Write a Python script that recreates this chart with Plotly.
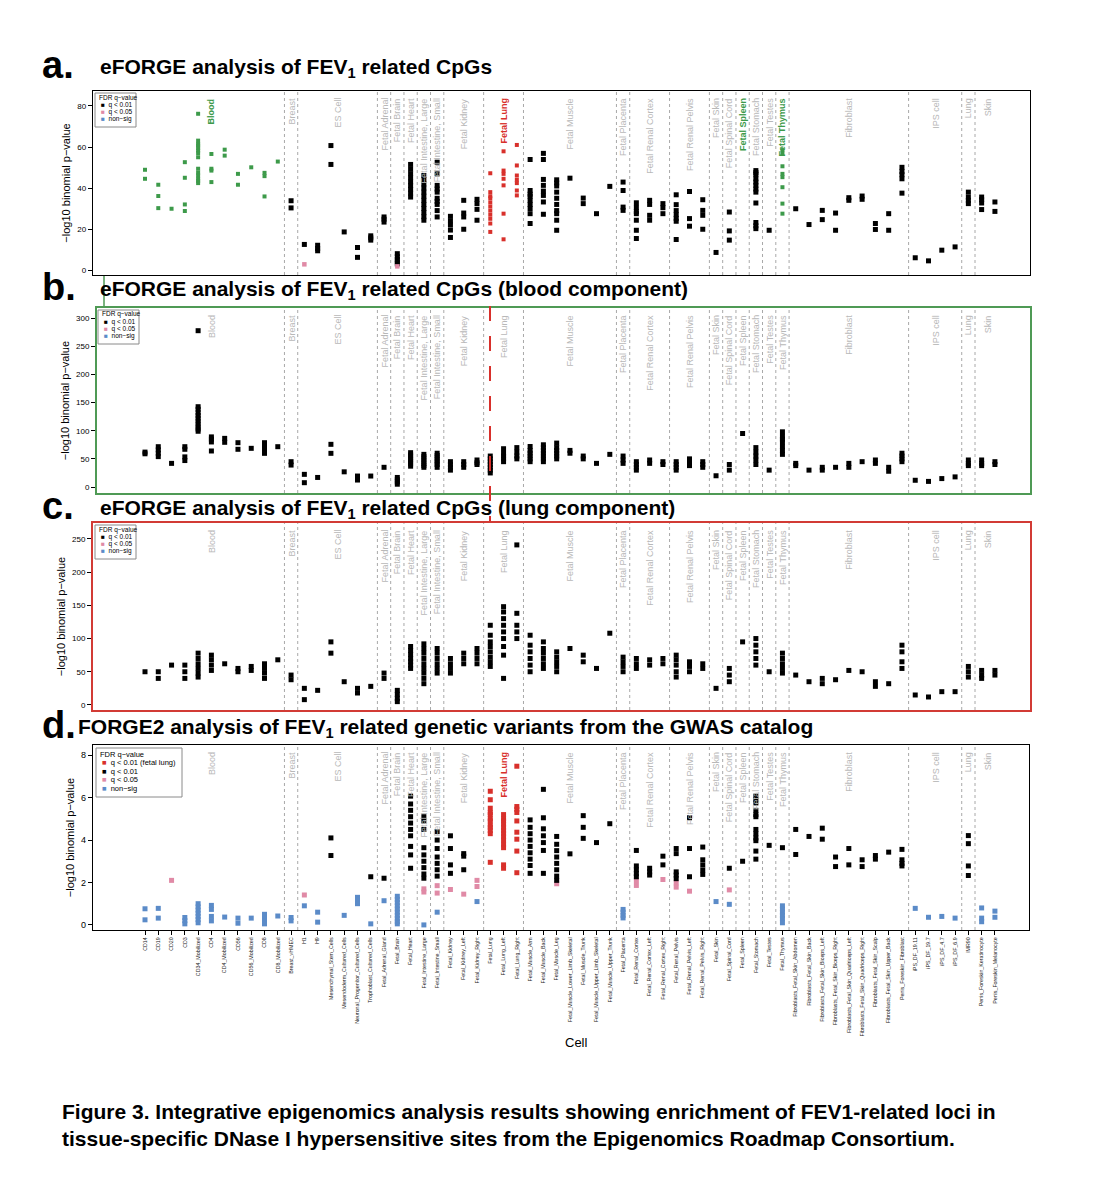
import plotly.graph_objects as go

W, H = 1096, 1200

cells = ["CD14", "CD19", "CD20", "CD3", "CD34_Mobilized", "CD4", "CD4_Mobilized", "CD56",
         "CD56_Mobilized", "CD8", "CD8_Mobilized", "Breast_vHMEC", "H1", "H9",
         "Mesenchymal_Stem_Cells", "Mesendoderm_Cultured_Cells", "Neuronal_Progenitor_Cultured_Cells",
         "Trophoblast_Cultured_Cells", "Fetal_Adrenal_Gland", "Fetal_Brain", "Fetal_Heart",
         "Fetal_Intestine_Large", "Fetal_Intestine_Small", "Fetal_Kidney", "Fetal_Kidney_Left",
         "Fetal_Kidney_Right", "Fetal_Lung", "Fetal_Lung_Left", "Fetal_Lung_Right", "Fetal_Muscle_Arm",
         "Fetal_Muscle_Back", "Fetal_Muscle_Leg", "Fetal_Muscle_Lower_Limb_Skeletal", "Fetal_Muscle_Trunk",
         "Fetal_Muscle_Upper_Limb_Skeletal", "Fetal_Muscle_Upper_Trunk", "Fetal_Placenta",
         "Fetal_Renal_Cortex", "Fetal_Renal_Cortex_Left", "Fetal_Renal_Cortex_Right", "Fetal_Renal_Pelvis",
         "Fetal_Renal_Pelvis_Left", "Fetal_Renal_Pelvis_Right", "Fetal_Skin", "Fetal_Spinal_Cord",
         "Fetal_Spleen", "Fetal_Stomach", "Fetal_Testes", "Fetal_Thymus",
         "Fibroblasts_Fetal_Skin_Abdomen", "Fibroblasts_Fetal_Skin_Back", "Fibroblasts_Fetal_Skin_Biceps_Left",
         "Fibroblasts_Fetal_Skin_Biceps_Right", "Fibroblasts_Fetal_Skin_Quadriceps_Left",
         "Fibroblasts_Fetal_Skin_Quadriceps_Right", "Fibroblasts_Fetal_Skin_Scalp",
         "Fibroblasts_Fetal_Skin_Upper_Back", "Penis_Foreskin_Fibroblast", "iPS_DF_19.11", "iPS_DF_19.7",
         "iPS_DF_4.7", "iPS_DF_6.9", "IMR90", "Penis_Foreskin_Keratinocyte", "Penis_Foreskin_Melanocyte"]

# tissue groups: label, first cell, last cell
groups = [("Blood", "CD14", "CD8_Mobilized"), ("Breast", "Breast_vHMEC", "Breast_vHMEC"),
          ("ES Cell", "H1", "Trophoblast_Cultured_Cells"), ("Fetal Adrenal", "Fetal_Adrenal_Gland", "Fetal_Adrenal_Gland"),
          ("Fetal Brain", "Fetal_Brain", "Fetal_Brain"), ("Fetal Heart", "Fetal_Heart", "Fetal_Heart"),
          ("Fetal Intestine, Large", "Fetal_Intestine_Large", "Fetal_Intestine_Large"),
          ("Fetal Intestine, Small", "Fetal_Intestine_Small", "Fetal_Intestine_Small"),
          ("Fetal Kidney", "Fetal_Kidney", "Fetal_Kidney_Right"), ("Fetal Lung", "Fetal_Lung", "Fetal_Lung_Right"),
          ("Fetal Muscle", "Fetal_Muscle_Arm", "Fetal_Muscle_Upper_Trunk"),
          ("Fetal Placenta", "Fetal_Placenta", "Fetal_Placenta"),
          ("Fetal Renal Cortex", "Fetal_Renal_Cortex", "Fetal_Renal_Cortex_Right"),
          ("Fetal Renal Pelvis", "Fetal_Renal_Pelvis", "Fetal_Renal_Pelvis_Right"),
          ("Fetal Skin", "Fetal_Skin", "Fetal_Skin"), ("Fetal Spinal Cord", "Fetal_Spinal_Cord", "Fetal_Spinal_Cord"),
          ("Fetal Spleen", "Fetal_Spleen", "Fetal_Spleen"), ("Fetal Stomach", "Fetal_Stomach", "Fetal_Stomach"),
          ("Fetal Testes", "Fetal_Testes", "Fetal_Testes"), ("Fetal Thymus", "Fetal_Thymus", "Fetal_Thymus"),
          ("Fibroblast", "Fibroblasts_Fetal_Skin_Abdomen", "Penis_Foreskin_Fibroblast"),
          ("IPS cell", "iPS_DF_19.11", "iPS_DF_6.9"), ("Lung", "IMR90", "IMR90"),
          ("Skin", "Penis_Foreskin_Keratinocyte", "Penis_Foreskin_Melanocyte")]

# ---------------- panel a: eFORGE, FEV1 CpGs ----------------
a_q01 = {
    "CD14": [48.9, 44.5], "CD19": [41.6, 36.1, 30.2], "CD20": [29.9], "CD3": [52.6, 45.0, 32.0, 28.8],
    "CD34_Mobilized": [76.2, 63.1, 61.5, 60.7, 59.5, 58.3, 57.0, 55.0, 49.4, 47.5, 46.1, 44.5, 43.5, 42.4],
    "CD4": [56.6, 49.4, 48.5, 42.9], "CD4_Mobilized": [58.7, 55.8], "CD56": [46.9, 41.6],
    "CD56_Mobilized": [50.1], "CD8": [47.4, 45.8, 35.9], "CD8_Mobilized": [52.9],
    "Breast_vHMEC": [33.8, 30.3], "H1": [12.5], "H9": [12.1, 10.5, 9.4],
    "Mesenchymal_Stem_Cells": [60.7, 51.5], "Mesendoderm_Cultured_Cells": [18.6],
    "Neuronal_Progenitor_Cultured_Cells": [11.0, 6.2], "Trophoblast_Cultured_Cells": [16.7, 15.7, 14.6],
    "Fetal_Adrenal_Gland": [25.9, 24.8, 23.4], "Fetal_Brain": [8.0, 6.5, 5.2, 4.0, 3.0],
    "Fetal_Heart": [51.5, 49.2, 47.0, 45.0, 43.0, 41.2, 39.4, 37.5, 35.6],
    "Fetal_Intestine_Large": [46.1, 44.0, 42.0, 40.0, 38.0, 36.0, 34.0, 32.0, 30.0, 28.0, 26.0, 24.3],
    "Fetal_Intestine_Small": [52.6, 46.9, 41.3, 39.5, 38.0, 35.0, 33.5, 32.0, 29.0, 25.9],
    "Fetal_Kidney": [26.2, 24.0, 22.0, 19.5, 15.9], "Fetal_Kidney_Left": [34.0, 27.8, 25.9, 19.9],
    "Fetal_Kidney_Right": [34.5, 32.4, 29.6, 24.3],
    "Fetal_Lung": [47.2, 38.0, 36.0, 35.0, 33.0, 31.0, 29.0, 27.0, 25.0, 22.7, 18.6],
    "Fetal_Lung_Left": [57.9, 48.5, 46.9, 44.5, 41.3, 27.5, 15.0],
    "Fetal_Lung_Right": [61.0, 51.0, 46.1, 44.0, 42.4, 38.8, 36.4],
    "Fetal_Muscle_Arm": [53.9, 38.8, 37.0, 36.0, 34.0, 32.0, 30.0, 27.5, 22.7],
    "Fetal_Muscle_Back": [56.9, 53.9, 44.2, 41.3, 38.5, 36.4, 33.2, 27.2],
    "Fetal_Muscle_Leg": [44.0, 42.5, 41.0, 38.0, 35.0, 32.0, 29.0, 27.5, 24.3, 19.4],
    "Fetal_Muscle_Lower_Limb_Skeletal": [44.8], "Fetal_Muscle_Trunk": [35.1, 32.4],
    "Fetal_Muscle_Upper_Limb_Skeletal": [27.5], "Fetal_Muscle_Upper_Trunk": [40.8],
    "Fetal_Placenta": [42.9, 38.8, 30.7, 29.1],
    "Fetal_Renal_Cortex": [32.8, 30.5, 28.5, 27.5, 24.3, 19.4, 15.4],
    "Fetal_Renal_Cortex_Left": [34.0, 32.0, 26.7, 24.3], "Fetal_Renal_Cortex_Right": [32.4, 30.4, 27.5],
    "Fetal_Renal_Pelvis": [36.7, 31.9, 29.0, 27.0, 25.2, 23.8, 14.9],
    "Fetal_Renal_Pelvis_Left": [38.3, 25.1, 21.4], "Fetal_Renal_Pelvis_Right": [34.3, 29.1, 26.7, 19.9],
    "Fetal_Skin": [8.6], "Fetal_Spinal_Cord": [28.3, 19.1, 14.6],
    "Fetal_Stomach": [48.5, 47.5, 46.5, 44.5, 42.9, 41.3, 39.5, 38.0, 32.7, 23.2, 21.6, 20.2],
    "Fetal_Testes": [19.4], "Fetal_Thymus": [58.5, 56.8, 50.6, 46.9, 45.3, 40.4, 32.4, 27.5],
    "Fibroblasts_Fetal_Skin_Abdomen": [29.9], "Fibroblasts_Fetal_Skin_Back": [22.2],
    "Fibroblasts_Fetal_Skin_Biceps_Left": [29.1, 24.6], "Fibroblasts_Fetal_Skin_Biceps_Right": [27.8, 19.4],
    "Fibroblasts_Fetal_Skin_Quadriceps_Left": [35.3, 34.0], "Fibroblasts_Fetal_Skin_Quadriceps_Right": [36.1, 34.5],
    "Fibroblasts_Fetal_Skin_Scalp": [22.7, 19.8], "Fibroblasts_Fetal_Skin_Upper_Back": [27.5, 19.4],
    "Penis_Foreskin_Fibroblast": [50.1, 48.1, 46.5, 44.5, 37.5],
    "iPS_DF_19.11": [6.0], "iPS_DF_19.7": [4.5], "iPS_DF_4.7": [9.7], "iPS_DF_6.9": [11.3],
    "IMR90": [38.0, 35.6, 34.0, 32.4], "Penis_Foreskin_Keratinocyte": [35.6, 34.3, 32.7, 29.5],
    "Penis_Foreskin_Melanocyte": [33.2, 28.6],
}
a_q05 = {"H1": [2.8], "Fetal_Brain": [1.8]}
a_green_cells = ["CD14", "CD19", "CD20", "CD3", "CD34_Mobilized", "CD4", "CD4_Mobilized", "CD56",
                 "CD56_Mobilized", "CD8", "CD8_Mobilized", "Fetal_Spleen", "Fetal_Thymus"]
a_red_cells = ["Fetal_Lung", "Fetal_Lung_Left", "Fetal_Lung_Right"]
a_green_labels = ["Blood", "Fetal Spleen", "Fetal Thymus"]
a_red_labels = ["Fetal Lung"]

# ---------------- panel b: blood component ----------------
b_q01 = {
    "CD14": [62, 59], "CD19": [71.6, 66, 60, 54], "CD20": [42], "CD3": [71.6, 67, 53.5, 47],
    "CD34_Mobilized": [277.5, 142.6, 138, 132, 127, 122, 117, 112, 107, 103, 99],
    "CD4": [89, 85, 80, 64], "CD4_Mobilized": [86.4, 79.4], "CD56": [78.7, 67], "CD56_Mobilized": [68.7],
    "CD8": [78.7, 72, 66, 59.8], "CD8_Mobilized": [71.6], "Breast_vHMEC": [45, 39], "H1": [22.5, 7.7],
    "H9": [17], "Mesenchymal_Stem_Cells": [75.8, 59.8], "Mesendoderm_Cultured_Cells": [27],
    "Neuronal_Progenitor_Cultured_Cells": [19.5, 12.4], "Trophoblast_Cultured_Cells": [19.5],
    "Fetal_Adrenal_Gland": [35], "Fetal_Brain": [17, 13, 9, 5],
    "Fetal_Heart": [61, 57, 53, 49, 45, 41, 37], "Fetal_Intestine_Large": [58, 54, 50, 46, 42, 38, 35],
    "Fetal_Intestine_Small": [60, 56, 52, 48, 44, 40, 35],
    "Fetal_Kidney": [45, 40, 35, 30], "Fetal_Kidney_Left": [45, 40, 35], "Fetal_Kidney_Right": [48, 43, 40],
    "Fetal_Lung": [55, 50, 45, 40, 35, 30, 25], "Fetal_Lung_Left": [68, 60, 55, 50, 45],
    "Fetal_Lung_Right": [70, 62, 55, 50], "Fetal_Muscle_Arm": [72, 65, 60, 55, 50, 45],
    "Fetal_Muscle_Back": [75, 70, 65, 60, 55, 50, 45], "Fetal_Muscle_Leg": [78, 70, 65, 60, 55, 50],
    "Fetal_Muscle_Lower_Limb_Skeletal": [65, 60], "Fetal_Muscle_Trunk": [55, 50],
    "Fetal_Muscle_Upper_Limb_Skeletal": [42], "Fetal_Muscle_Upper_Trunk": [58],
    "Fetal_Placenta": [55, 48, 42], "Fetal_Renal_Cortex": [45, 40, 35, 30], "Fetal_Renal_Cortex_Left": [48, 42],
    "Fetal_Renal_Cortex_Right": [45, 40], "Fetal_Renal_Pelvis": [45, 40, 35, 30],
    "Fetal_Renal_Pelvis_Left": [50, 43, 38], "Fetal_Renal_Pelvis_Right": [45, 40, 35],
    "Fetal_Skin": [20], "Fetal_Spinal_Cord": [40, 30], "Fetal_Spleen": [95],
    "Fetal_Stomach": [70, 62, 55, 48, 40], "Fetal_Testes": [30], "Fetal_Thymus": [98, 90, 85, 80, 72, 65, 58],
    "Fibroblasts_Fetal_Skin_Abdomen": [42, 38], "Fibroblasts_Fetal_Skin_Back": [30],
    "Fibroblasts_Fetal_Skin_Biceps_Left": [35, 30], "Fibroblasts_Fetal_Skin_Biceps_Right": [35],
    "Fibroblasts_Fetal_Skin_Quadriceps_Left": [42, 35], "Fibroblasts_Fetal_Skin_Quadriceps_Right": [45],
    "Fibroblasts_Fetal_Skin_Scalp": [48, 42], "Fibroblasts_Fetal_Skin_Upper_Back": [35, 28],
    "Penis_Foreskin_Fibroblast": [60, 55, 50, 45], "iPS_DF_19.11": [12], "iPS_DF_19.7": [10],
    "iPS_DF_4.7": [15], "iPS_DF_6.9": [18], "IMR90": [48, 42, 38], "Penis_Foreskin_Keratinocyte": [48, 42, 38],
    "Penis_Foreskin_Melanocyte": [45, 40],
}

# ---------------- panel c: lung component ----------------
c_q01 = {
    "CD14": [50], "CD19": [50, 40], "CD20": [60], "CD3": [60, 50, 40],
    "CD34_Mobilized": [78, 70, 62, 55, 48, 42], "CD4": [75, 68, 60, 52], "CD4_Mobilized": [62],
    "CD56": [55, 50], "CD56_Mobilized": [58, 52], "CD8": [62, 55, 48, 40], "CD8_Mobilized": [68],
    "Breast_vHMEC": [45, 38], "H1": [25, 8], "H9": [22], "Mesenchymal_Stem_Cells": [95, 78],
    "Mesendoderm_Cultured_Cells": [35], "Neuronal_Progenitor_Cultured_Cells": [25, 18],
    "Trophoblast_Cultured_Cells": [28], "Fetal_Adrenal_Gland": [48, 40], "Fetal_Brain": [22, 16, 10, 5],
    "Fetal_Heart": [88, 82, 76, 70, 65, 60, 55], "Fetal_Intestine_Large": [92, 85, 78, 70, 62, 55, 48, 40, 32],
    "Fetal_Intestine_Small": [85, 78, 70, 62, 55, 48], "Fetal_Kidney": [70, 62, 55, 48],
    "Fetal_Kidney_Left": [78, 70, 62], "Fetal_Kidney_Right": [85, 78, 70, 62],
    "Fetal_Lung": [120, 105, 95, 88, 80, 72, 65, 58],
    "Fetal_Lung_Left": [148, 140, 130, 120, 110, 100, 88, 75, 40],
    "Fetal_Lung_Right": [241, 138, 120, 110, 100],
    "Fetal_Muscle_Arm": [105, 90, 80, 70, 60, 50], "Fetal_Muscle_Back": [95, 85, 78, 70, 62, 55],
    "Fetal_Muscle_Leg": [80, 72, 65, 58, 50], "Fetal_Muscle_Lower_Limb_Skeletal": [85],
    "Fetal_Muscle_Trunk": [75, 65], "Fetal_Muscle_Upper_Limb_Skeletal": [55], "Fetal_Muscle_Upper_Trunk": [108],
    "Fetal_Placenta": [72, 65, 58, 50], "Fetal_Renal_Cortex": [70, 62, 55], "Fetal_Renal_Cortex_Left": [68, 60],
    "Fetal_Renal_Cortex_Right": [70, 62], "Fetal_Renal_Pelvis": [75, 68, 60, 50, 42],
    "Fetal_Renal_Pelvis_Left": [65, 58, 50], "Fetal_Renal_Pelvis_Right": [62, 55],
    "Fetal_Skin": [25], "Fetal_Spinal_Cord": [55, 45, 35], "Fetal_Spleen": [95],
    "Fetal_Stomach": [100, 90, 80, 70, 60], "Fetal_Testes": [50], "Fetal_Thymus": [78, 70, 62, 55, 48],
    "Fibroblasts_Fetal_Skin_Abdomen": [45], "Fibroblasts_Fetal_Skin_Back": [35],
    "Fibroblasts_Fetal_Skin_Biceps_Left": [40, 32], "Fibroblasts_Fetal_Skin_Biceps_Right": [38],
    "Fibroblasts_Fetal_Skin_Quadriceps_Left": [52], "Fibroblasts_Fetal_Skin_Quadriceps_Right": [50],
    "Fibroblasts_Fetal_Skin_Scalp": [35, 28], "Fibroblasts_Fetal_Skin_Upper_Back": [32],
    "Penis_Foreskin_Fibroblast": [90, 80, 65, 55], "iPS_DF_19.11": [15], "iPS_DF_19.7": [12],
    "iPS_DF_4.7": [20], "iPS_DF_6.9": [20], "IMR90": [58, 50, 42], "Penis_Foreskin_Keratinocyte": [52, 45, 40],
    "Penis_Foreskin_Melanocyte": [52, 45],
}

# ---------------- panel d: FORGE2, GWAS variants ----------------
d_lung = {
    "Fetal_Lung": [6.3, 5.9, 5.5, 5.3, 5.2, 5.0, 4.9, 4.7, 4.6, 4.45, 4.3, 2.95],
    "Fetal_Lung_Left": [5.2, 5.0, 4.9, 4.75, 4.6, 4.45, 4.3, 4.15, 4.0, 3.8, 3.64, 2.83, 2.67],
    "Fetal_Lung_Right": [7.48, 5.58, 5.45, 5.3, 4.9, 4.37, 4.04, 3.48, 2.46],
}
d_q01 = {
    "Mesenchymal_Stem_Cells": [4.1, 3.27], "Trophoblast_Cultured_Cells": [2.27], "Fetal_Adrenal_Gland": [2.2],
    "Fetal_Heart": [6.07, 5.7, 5.4, 5.1, 4.8, 4.5, 4.2, 3.7, 3.3, 2.67],
    "Fetal_Intestine_Large": [5.1, 4.9, 4.5, 3.64, 3.3, 3.0, 2.7, 2.4, 2.2],
    "Fetal_Intestine_Small": [4.4, 4.0, 3.6, 3.2, 2.9, 2.6, 2.3],
    "Fetal_Kidney": [4.2, 3.6, 2.83, 2.43], "Fetal_Kidney_Left": [3.36, 3.24, 2.6],
    "Fetal_Muscle_Arm": [4.95, 4.6, 4.3, 4.0, 3.7, 3.4, 3.1, 2.8, 2.43],
    "Fetal_Muscle_Back": [6.39, 5.05, 4.53, 4.2, 3.88, 3.51, 2.43],
    "Fetal_Muscle_Leg": [4.17, 3.8, 3.5, 3.2, 2.9, 2.6, 2.3, 2.1],
    "Fetal_Muscle_Lower_Limb_Skeletal": [3.35], "Fetal_Muscle_Trunk": [5.15, 4.6, 4.08],
    "Fetal_Muscle_Upper_Limb_Skeletal": [3.88], "Fetal_Muscle_Upper_Trunk": [4.77],
    "Fetal_Renal_Cortex": [3.51, 2.78, 2.6, 2.42, 2.27], "Fetal_Renal_Cortex_Left": [2.67, 2.5, 2.35],
    "Fetal_Renal_Cortex_Right": [3.24, 2.83], "Fetal_Renal_Pelvis": [3.6, 3.36, 2.5, 2.35, 2.18],
    "Fetal_Renal_Pelvis_Left": [5.05, 3.6, 2.27], "Fetal_Renal_Pelvis_Right": [3.67, 3.07, 2.83, 2.59, 2.38],
    "Fetal_Spinal_Cord": [2.67], "Fetal_Spleen": [3.0],
    "Fetal_Stomach": [6.07, 5.9, 5.75, 5.4, 5.2, 5.1, 4.5, 4.3, 4.1, 3.97, 3.48, 3.1],
    "Fetal_Testes": [3.75], "Fetal_Thymus": [3.64],
    "Fibroblasts_Fetal_Skin_Abdomen": [4.5, 3.32], "Fibroblasts_Fetal_Skin_Back": [4.17],
    "Fibroblasts_Fetal_Skin_Biceps_Left": [4.56, 4.04], "Fibroblasts_Fetal_Skin_Biceps_Right": [3.2, 2.75],
    "Fibroblasts_Fetal_Skin_Quadriceps_Left": [3.6, 2.83], "Fibroblasts_Fetal_Skin_Quadriceps_Right": [3.07, 2.75],
    "Fibroblasts_Fetal_Skin_Scalp": [3.27, 3.1], "Fibroblasts_Fetal_Skin_Upper_Back": [3.43],
    "Penis_Foreskin_Fibroblast": [3.56, 3.07, 2.9, 2.78], "IMR90": [4.21, 3.83, 2.78, 2.33],
}
d_q05 = {
    "CD20": [2.1], "H1": [1.41], "Fetal_Intestine_Large": [1.7, 1.55], "Fetal_Intestine_Small": [1.85, 1.5],
    "Fetal_Kidney": [1.67], "Fetal_Kidney_Left": [1.45], "Fetal_Kidney_Right": [2.1, 1.81],
    "Fetal_Muscle_Leg": [1.94], "Fetal_Renal_Cortex": [2.09, 1.86], "Fetal_Renal_Cortex_Right": [2.14],
    "Fetal_Renal_Pelvis": [1.98, 1.78], "Fetal_Renal_Pelvis_Left": [1.59], "Fetal_Spinal_Cord": [1.65],
}
d_nonsig = {
    "CD14": [0.76, 0.24], "CD19": [0.78, 0.32], "CD3": [0.35, 0.2, 0.05],
    "CD34_Mobilized": [1.0, 0.85, 0.7, 0.55, 0.4, 0.25, 0.1], "CD4": [0.92, 0.73, 0.4, 0.19],
    "CD4_Mobilized": [0.37], "CD56": [0.32, 0.08], "CD56_Mobilized": [0.32], "CD8": [0.5, 0.35, 0.2, 0.05],
    "CD8_Mobilized": [0.42], "Breast_vHMEC": [0.35, 0.19], "H1": [0.9], "H9": [0.6, 0.13],
    "Mesendoderm_Cultured_Cells": [0.45], "Neuronal_Progenitor_Cultured_Cells": [1.3, 1.15, 1.0],
    "Trophoblast_Cultured_Cells": [0.05], "Fetal_Adrenal_Gland": [1.14],
    "Fetal_Brain": [1.35, 1.2, 1.05, 0.9, 0.75, 0.6, 0.45, 0.3, 0.15, 0.05],
    "Fetal_Intestine_Large": [0.0], "Fetal_Intestine_Small": [0.6], "Fetal_Kidney_Right": [1.1],
    "Fetal_Placenta": [0.73, 0.6, 0.45, 0.33], "Fetal_Skin": [1.1], "Fetal_Spinal_Cord": [0.97],
    "Fetal_Thymus": [0.9, 0.75, 0.6, 0.45, 0.3, 0.1], "iPS_DF_19.11": [0.78], "iPS_DF_19.7": [0.36],
    "iPS_DF_4.7": [0.4], "iPS_DF_6.9": [0.32], "Penis_Foreskin_Keratinocyte": [0.8, 0.32, 0.15],
    "Penis_Foreskin_Melanocyte": [0.65, 0.36],
}
d_red_labels = ["Fetal Lung"]

titles = ["eFORGE analysis of FEV<sub>1</sub> related CpGs",
          "eFORGE analysis of FEV<sub>1</sub> related CpGs (blood component)",
          "eFORGE analysis of FEV<sub>1</sub> related CpGs (lung component)",
          "FORGE2 analysis of FEV<sub>1</sub> related genetic variants from the GWAS catalog"]
letters = ["a.", "b.", "c.", "d."]
caption = ("Figure 3. Integrative epigenomics analysis results showing enrichment of FEV1-related loci in<br>"
           "tissue-specific DNase I hypersensitive sites from the Epigenomics Roadmap Consortium.")

# ---------------- styling ----------------
BLACK, PINK, BLUE, RED, GREEN = "#000000", "#e08aa6", "#5b8bc8", "#d8302b", "#3d9a4a"
GREYTXT = "#b8b8b8"
FONT = "Liberation Sans"
X0PX, DXPX = 145.0, 13.28  # pixel of first cell, spacing
OFF = 8  # page body margin

def pxx(x):
    return (x - OFF) / W

def pxy(y):
    return 1 - (y - OFF) / H

panels = [
    dict(box=(93, 91, 1030, 275), yr=(-2.4, 87.3), yt=[0, 20, 40, 60, 80], lc=BLACK, lw=1.3, ttl_y=68),
    dict(box=(97, 308, 1030, 493), yr=(-10.6, 317.8), yt=[0, 50, 100, 150, 200, 250, 300], lc="#4f9a55", lw=2, ttl_y=290),
    dict(box=(93, 523, 1030, 710), yr=(-7.6, 274), yt=[0, 50, 100, 150, 200, 250], lc="#d23b35", lw=2, ttl_y=509),
    dict(box=(93, 745, 1029, 930), yr=(-0.24, 8.48), yt=[0, 2, 4, 6, 8], lc=BLACK, lw=1.3, ttl_y=728),
]

fig = go.Figure()
layout = dict(width=W, height=H, autosize=False, margin=dict(l=0, r=0, t=0, b=0),
              paper_bgcolor="white", plot_bgcolor="white", showlegend=False,
              font=dict(family=FONT, color="black"))
shapes, annots = [], []
idx = {c: i for i, c in enumerate(cells)}

def add_points(data, p, color, size, symbol="square"):
    xs, ys = [], []
    for c in cells:
        for v in data.get(c, []):
            xs.append(idx[c])
            ys.append(v)
    n = "" if p == 0 else str(p + 1)
    fig.add_trace(go.Scatter(x=xs, y=ys, mode="markers", xaxis="x" + n, yaxis="y" + n,
                             marker=dict(color=color, size=size, symbol=symbol, line=dict(width=0)),
                             hoverinfo="x+y"))

for p, P in enumerate(panels):
    x0, y0, x1, y1 = P["box"]
    n = "" if p == 0 else str(p + 1)
    xr = ((x0 - X0PX) / DXPX, (x1 - X0PX) / DXPX)
    xa = dict(domain=[pxx(x0), pxx(x1)], range=list(xr), anchor="y" + n, showgrid=False, zeroline=False,
              showline=True, mirror=True, linecolor=P["lc"], linewidth=P["lw"], fixedrange=True)
    if p == 3:
        xa.update(tickmode="array", tickvals=list(range(len(cells))), ticktext=cells, tickangle=-90,
                  ticks="outside", ticklen=4, tickwidth=1, tickcolor="black",
                  tickfont=dict(size=5.3, family=FONT, color="#222"))
    else:
        xa.update(showticklabels=False, ticks="")
    ya = dict(domain=[pxy(y1), pxy(y0)], range=list(P["yr"]), anchor="x" + n, showgrid=False, zeroline=False,
              showline=True, mirror=True, linecolor=P["lc"], linewidth=P["lw"], tickmode="array",
              tickvals=P["yt"], ticks="outside", ticklen=4, tickwidth=1, tickcolor="black",
              tickfont=dict(size=8 if p < 3 else 9, family=FONT),
              title=dict(text="\u2212log10 binomial p\u2212value", font=dict(size=11, family=FONT), standoff=4),
              fixedrange=True)
    layout["xaxis" + n] = xa
    layout["yaxis" + n] = ya

    # group separators
    for gi in range(len(groups) - 1):
        xb = idx[groups[gi][2]] + 0.5
        shapes.append(dict(type="line", xref="x" + n, yref="y" + n + " domain", x0=xb, x1=xb, y0=0, y1=1,
                           line=dict(color="#a8a8a8", width=1, dash="dot"), layer="below"))
    # group labels
    for lab, c0, c1 in groups:
        xc = (idx[c0] + idx[c1]) / 2
        col, bold = GREYTXT, False
        if p == 0 and lab in a_green_labels:
            col, bold = GREEN, True
        if p == 0 and lab in a_red_labels:
            col, bold = RED, True
        if p == 3 and lab in d_red_labels:
            col, bold = RED, True
        txt = "<b>%s</b>" % lab if bold else lab
        annots.append(dict(x=xc, y=1, xref="x" + n, yref="y" + n + " domain", text=txt, textangle=-90,
                           showarrow=False, xanchor="center", yanchor="top", yshift=-5,
                           font=dict(size=9, color=col, family=FONT)))
    # panel letter & title
    annots.append(dict(x=pxx(40), y=pxy(P["ttl_y"] - 3), xref="paper", yref="paper", text="<b>%s</b>" % letters[p],
                       showarrow=False, xanchor="left", yanchor="middle", font=dict(size=38, family=FONT)))
    tx = 98 if p < 3 else 76
    annots.append(dict(x=pxx(tx), y=pxy(P["ttl_y"]), xref="paper", yref="paper", text="<b>%s</b>" % titles[p],
                       showarrow=False, xanchor="left", yanchor="middle", font=dict(size=21, family=FONT)))

# points
add_points({c: v for c, v in a_q01.items() if c not in a_green_cells and c not in a_red_cells}, 0, BLACK, 5)
add_points({c: v for c, v in a_q01.items() if c in a_green_cells}, 0, GREEN, 4)
add_points({c: v for c, v in a_q01.items() if c in a_red_cells}, 0, RED, 4)
add_points(a_q05, 0, PINK, 4.5)
add_points(b_q01, 1, BLACK, 5)
add_points(c_q01, 2, BLACK, 5)
add_points(d_nonsig, 3, BLUE, 5)
add_points(d_q05, 3, PINK, 5)
add_points(d_q01, 3, BLACK, 5)
add_points(d_lung, 3, RED, 5)

# legends (drawn boxes)
def legend(bx0, by0, bx1, by1, items, fs, step, first):
    shapes.append(dict(type="rect", xref="paper", yref="paper", x0=pxx(bx0), x1=pxx(bx1), y0=pxy(by1), y1=pxy(by0),
                       line=dict(color="#8a8a8a", width=1), fillcolor="white"))
    annots.append(dict(x=pxx(bx0 + 2), y=pxy(by0 + first), xref="paper", yref="paper", text="FDR q\u2212value",
                       showarrow=False, xanchor="left", yanchor="middle", font=dict(size=fs, family=FONT)))
    for k, (col, lab) in enumerate(items):
        yy = by0 + first + step * (k + 1)
        annots.append(dict(x=pxx(bx0 + 4), y=pxy(yy), xref="paper", yref="paper",
                           text="<span style='color:%s'>\u25a0</span>  %s" % (col, lab),
                           showarrow=False, xanchor="left", yanchor="middle", font=dict(size=fs, family=FONT)))

std_items = [(BLACK, "q < 0.01"), (PINK, "q < 0.05"), (BLUE, "non\u2212sig")]
legend(95, 93, 136, 127, std_items, 6.5, 7.3, 4.5)
legend(98, 310, 139, 344, std_items, 6.5, 7.3, 4.5)
legend(95, 525, 136, 559, std_items, 6.5, 7.3, 4.5)
legend(96, 748, 182, 797, [(RED, "q < 0.01 (fetal lung)")] + [(BLACK, "q < 0.01"), (PINK, "q < 0.05"), (BLUE, "non\u2212sig")],
       7.5, 8.6, 6)

# connectors
shapes.append(dict(type="line", xref="paper", yref="paper", x0=pxx(490), x1=pxx(490), y0=pxy(306), y1=pxy(521),
                   line=dict(color=RED, width=2, dash="longdash")))
shapes.append(dict(type="line", xref="paper", yref="paper", x0=pxx(104), x1=pxx(104), y0=pxy(276), y1=pxy(308),
                   line=dict(color="#4f9a55", width=1.5)))

# x title and caption
annots.append(dict(x=pxx(576), y=pxy(1042), xref="paper", yref="paper", text="Cell", showarrow=False,
                   xanchor="center", yanchor="middle", font=dict(size=13, family=FONT)))
annots.append(dict(x=pxx(60), y=pxy(1125), xref="paper", yref="paper", text="<b>%s</b>" % caption,
                   showarrow=False, xanchor="left", yanchor="middle", align="left",
                   font=dict(size=21, family=FONT)))

layout["shapes"] = shapes
layout["annotations"] = annots
fig.update_layout(**layout)
fig.write_html("out.html")
